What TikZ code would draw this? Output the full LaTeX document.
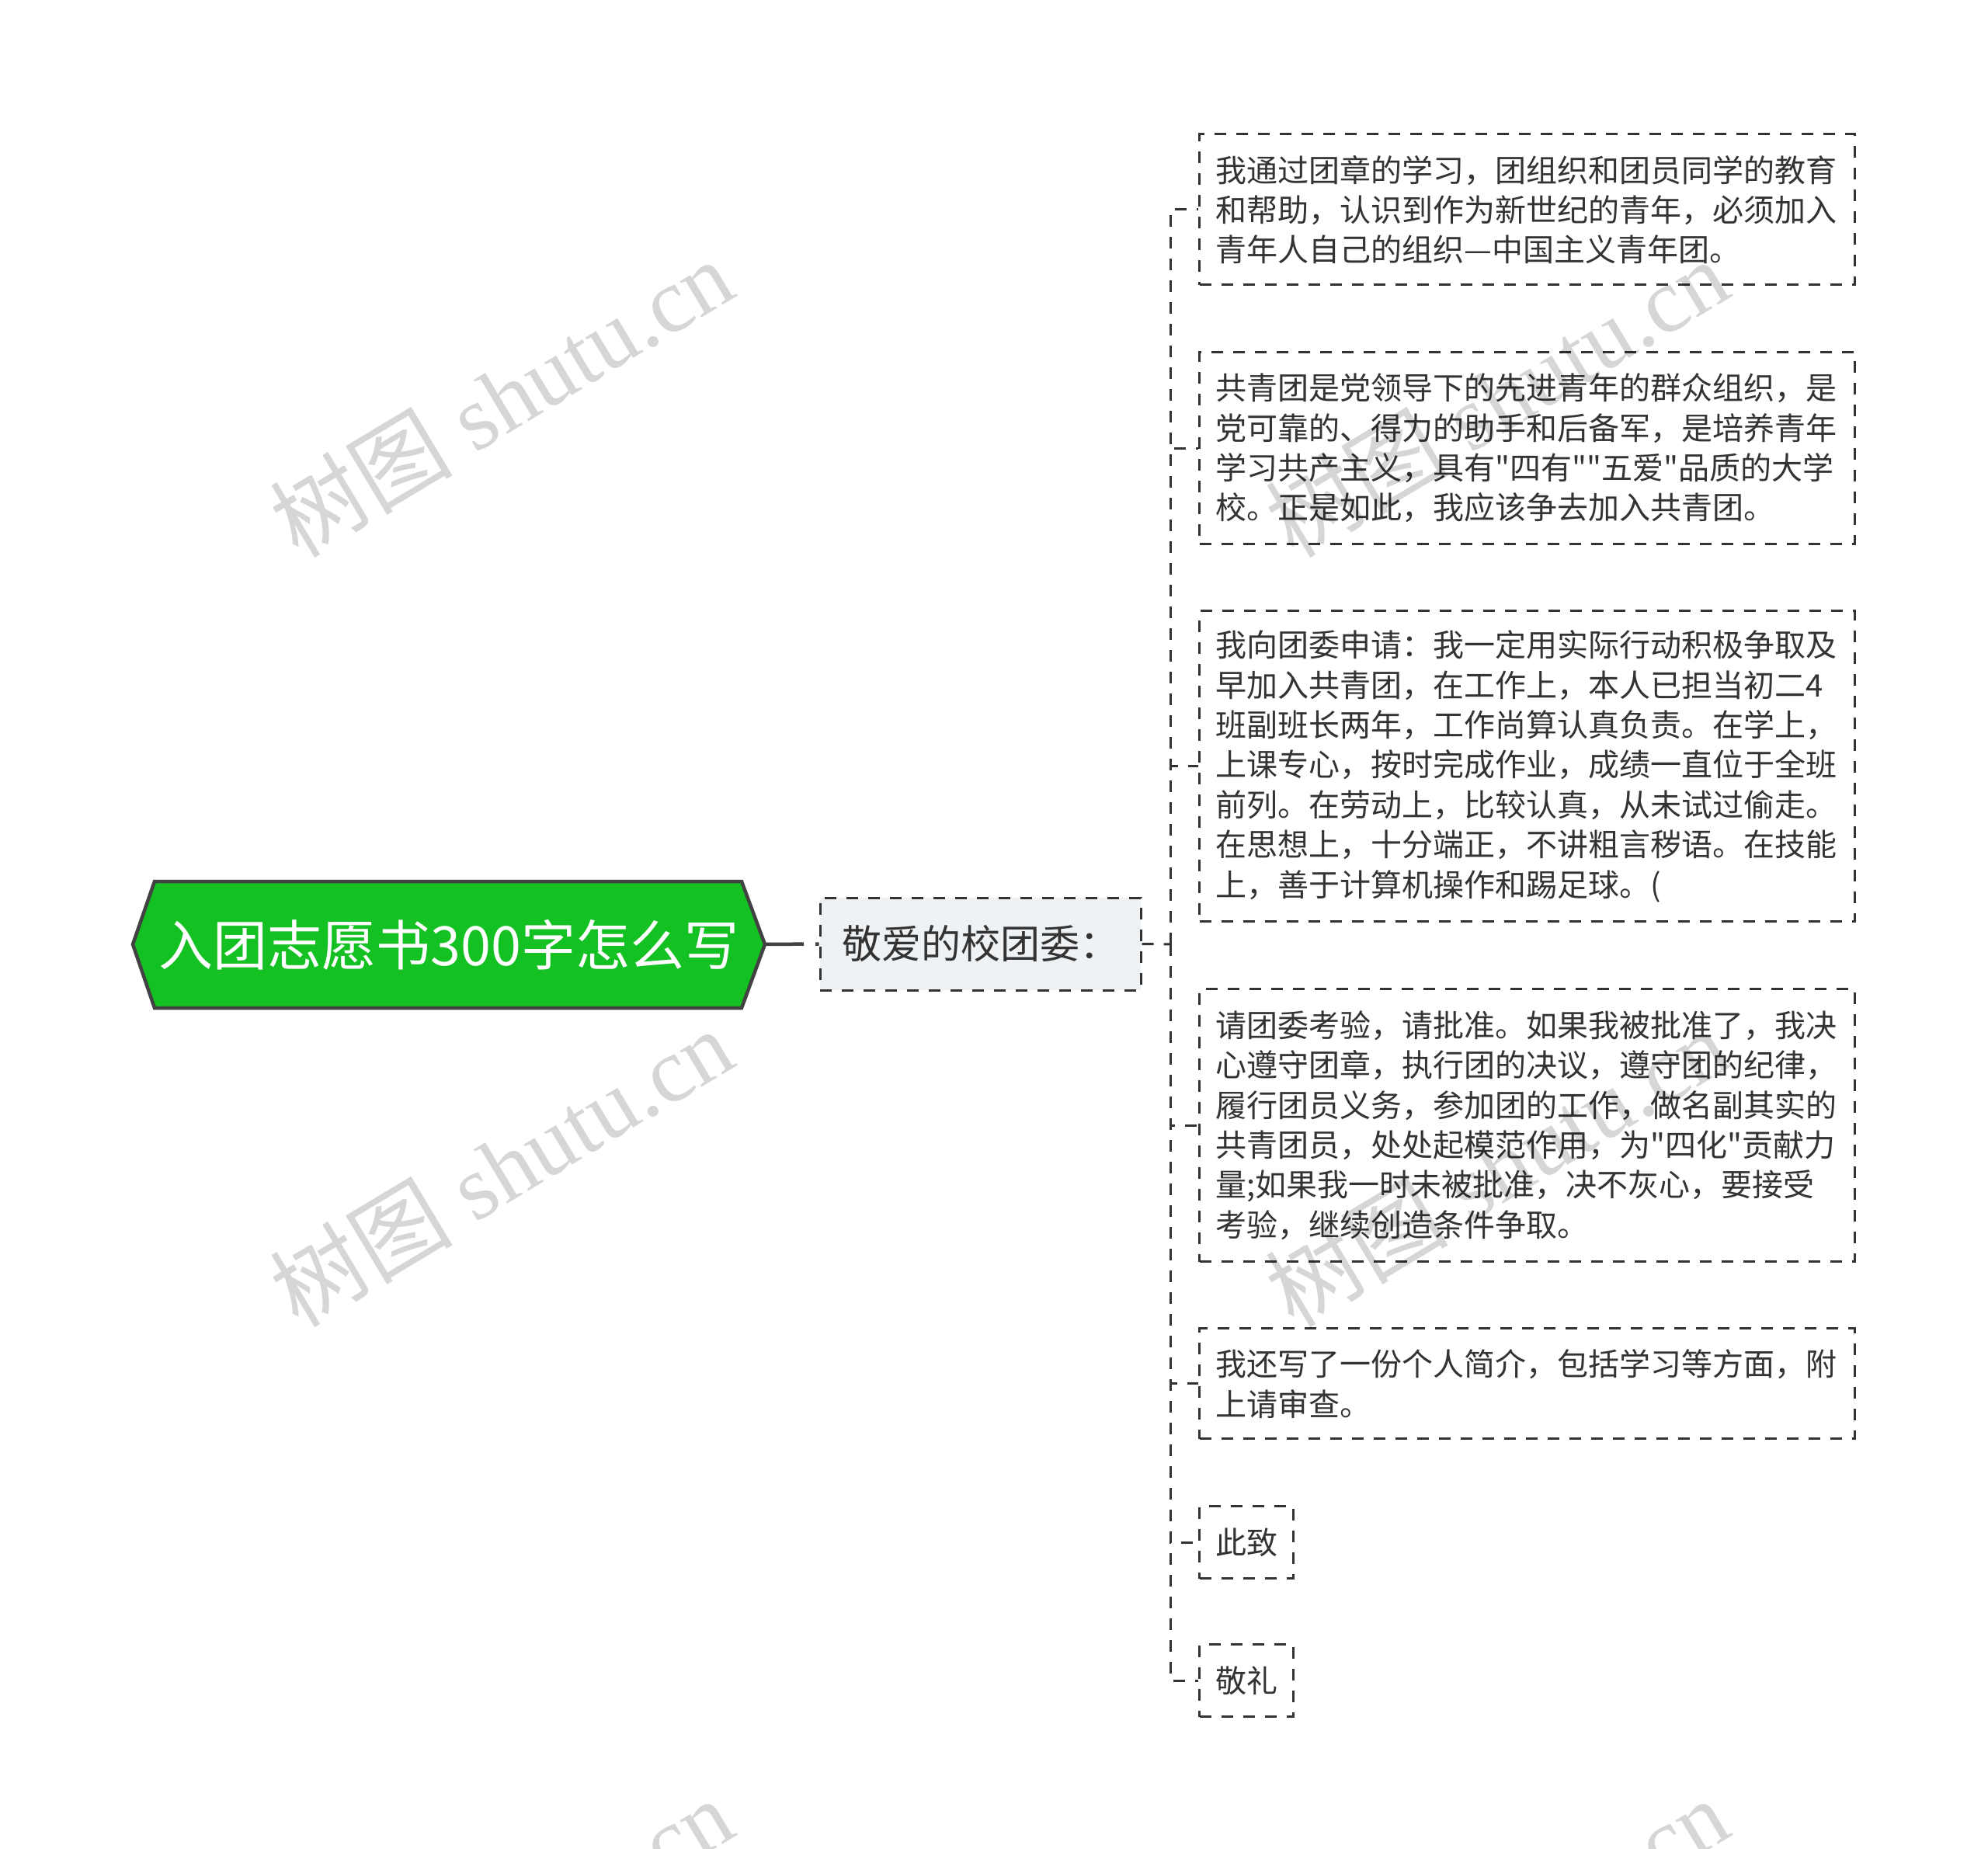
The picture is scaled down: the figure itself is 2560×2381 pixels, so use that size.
\documentclass[tikz,border=0pt]{standalone}
\usepackage{fontspec}
\setmainfont{Noto Sans CJK SC}
\newfontfamily\cjk{Noto Sans CJK SC}
\newfontfamily\wmlat{Liberation Serif}
\definecolor{rootgreen}{RGB}{20,193,35}
\definecolor{rootborder}{RGB}{66,66,66}
\definecolor{linec}{RGB}{51,51,51}
\definecolor{txt}{RGB}{51,51,51}
\definecolor{midfill}{RGB}{239,242,245}
\tikzset{
  childbox/.style={draw=linec, line width=3pt, dash pattern=on 15pt off 13pt,
    anchor=north west, align=left, text width=802pt, inner xsep=21pt, inner ysep=0pt,
    text=txt, font=\cjk\fontsize{40pt}{51.4pt}\selectfont},
  smallbox/.style={draw=linec, line width=3pt, dash pattern=on 15pt off 13pt,
    anchor=north west, align=center, minimum width=121pt, minimum height=93pt,
    inner sep=0pt, text=txt, font=\cjk\fontsize{40pt}{51.4pt}\selectfont},
  midbox/.style={draw=linec, fill=midfill, line width=3pt, dash pattern=on 15pt off 13pt,
    minimum width=413pt, minimum height=119pt, inner sep=0pt, text=txt,
    font=\cjk\fontsize{51pt}{60pt}\selectfont},
  roottext/.style={minimum width=756pt, minimum height=163pt, inner sep=0pt, text=white,
    font=\cjk\fontsize{70pt}{78pt}\selectfont},
  conn/.style={draw=linec, line width=3pt, dash pattern=on 15pt off 13pt},
  rootconn/.style={draw=rootborder, line width=4.5pt, dash pattern=on 50pt off 15pt on 20pt off 5pt},
  wm/.style={text=black, opacity=0.16, rotate=31, inner sep=0pt}
}
\begin{document}
\begin{tikzpicture}[x=1pt,y=-1pt]
\useasboundingbox[fill=white] (0,0) rectangle (2560,2381);

% root hexagon
\path[draw=rootborder, line width=4.5pt, fill=rootgreen, line join=miter]
  (171,1216) -- (199,1135) -- (955,1135) -- (985,1216) -- (955,1298) -- (199,1298) -- cycle;
\node[roottext] (root) at (578,1217) {入团志愿书300字怎么写};
\coordinate (rtip) at (985,1216);

% middle node
\node[midbox] (mid) at (1262.5,1215.5) {敬爱的校团委：};
\draw[rootconn] (rtip) -- (mid.west);

% children
\node[childbox, minimum height=194pt] (c1) at (1543,171.5) {我通过团章的学习，团组织和团员同学的教育\\和帮助，认识到作为新世纪的青年，必须加入\\青年人自己的组织—中国主义青年团。};
\node[childbox, minimum height=246.5pt] (c2) at (1543,452.3) {共青团是党领导下的先进青年的群众组织，是\\党可靠的、得力的助手和后备军，是培养青年\\学习共产主义，具有"四有""五爱"品质的大学\\校。正是如此，我应该争去加入共青团。};
\node[childbox, minimum height=400pt] (c3) at (1543,785.3) {我向团委申请：我一定用实际行动积极争取及\\早加入共青团，在工作上，本人已担当初二4\\班副班长两年，工作尚算认真负责。在学上，\\上课专心，按时完成作业，成绩一直位于全班\\前列。在劳动上，比较认真，从未试过偷走。\\在思想上，十分端正，不讲粗言秽语。在技能\\上，善于计算机操作和踢足球。(};
\node[childbox, minimum height=351pt] (c4) at (1543,1272) {请团委考验，请批准。如果我被批准了，我决\\心遵守团章，执行团的决议，遵守团的纪律，\\履行团员义务，参加团的工作，做名副其实的\\共青团员，处处起模范作用，为"四化"贡献力\\量;如果我一时未被批准，决不灰心，要接受\\考验，继续创造条件争取。};
\node[childbox, minimum height=142pt] (c5) at (1543,1709.4) {我还写了一份个人简介，包括学习等方面，附\\上请审查。};
\node[smallbox] (c6) at (1543,1938) {此致};
\node[smallbox] (c7) at (1543,2116) {敬礼};

% connectors
\coordinate (jn) at (1507,1216);
\draw[conn] (mid.east) -- (jn);
\foreach \c in {c1,c2,c3,c4,c5,c6,c7}{
  \draw[conn] (jn) |- (\c.west);
}

% watermarks
\foreach \x/\y in {645/512, 1927/512, 645/1503, 1927/1503, 645/2494, 1927/2494}{
  \node[wm] at (\x,\y) {\fontsize{118pt}{118pt}\cjk 树图\wmlat\ shutu.cn};
}
\end{tikzpicture}
\end{document}
